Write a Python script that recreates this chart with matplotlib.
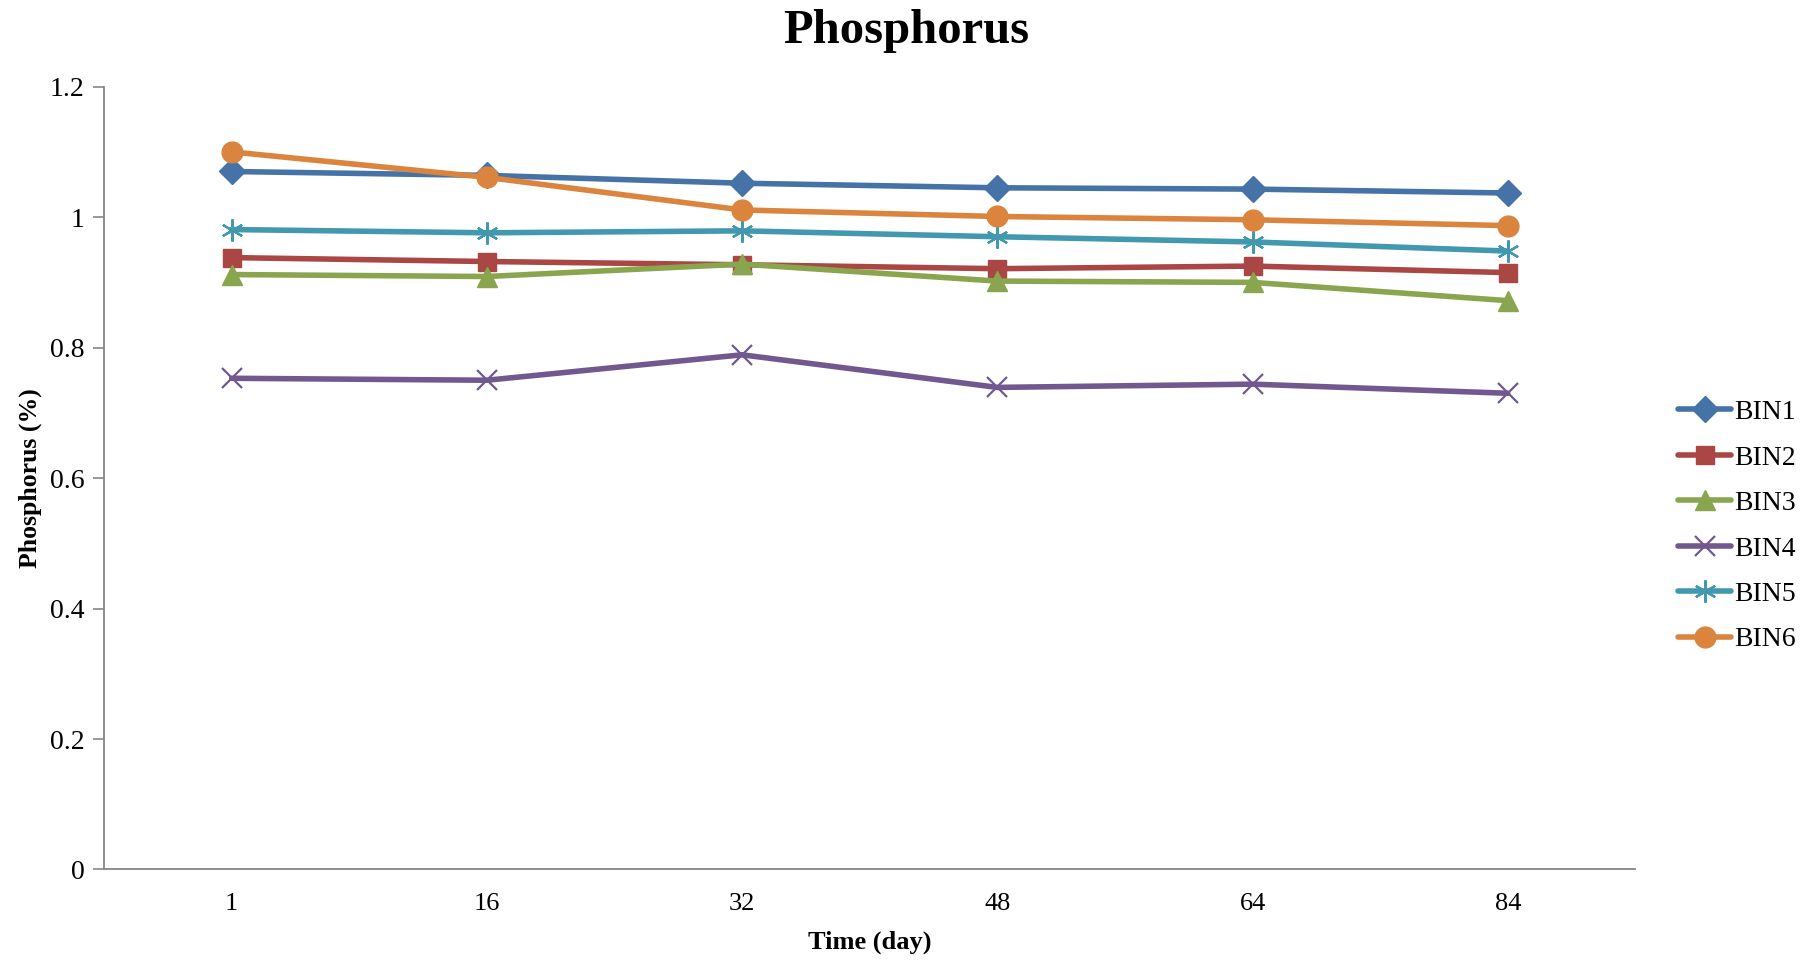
import numpy as np
import matplotlib
matplotlib.use("Agg")
import matplotlib.pyplot as plt

plt.rcParams["font.family"] = ["Liberation Serif", "DejaVu Serif"]

# Phosphorus content over composting time
days = ["1", "16", "32", "48", "64", "84"]
bin1 = [1.070, 1.064, 1.052, 1.045, 1.043, 1.037]
bin2 = [0.938, 0.932, 0.927, 0.921, 0.925, 0.915]
bin3 = [0.912, 0.909, 0.928, 0.902, 0.900, 0.872]
bin4 = [0.753, 0.750, 0.789, 0.739, 0.744, 0.730]
bin5 = [0.981, 0.976, 0.979, 0.970, 0.962, 0.948]
bin6 = [1.100, 1.061, 1.011, 1.001, 0.996, 0.987]

series = [
    ("BIN1", bin1, "#4572A7", "D", 13),
    ("BIN2", bin2, "#AA4643", "s", 13),
    ("BIN3", bin3, "#89A54E", "^", 15),
    ("BIN4", bin4, "#71588F", "x", 15),
    ("BIN5", bin5, "#4198AF", (6, 2, 0), 16),
    ("BIN6", bin6, "#DB843D", "o", 15),
]

fig = plt.figure(figsize=(18.13, 9.6), dpi=100)
ax = fig.add_axes([0.0574, 0.0943, 0.8446, 0.8154])

x = np.arange(len(days))
for name, vals, col, mk, ms in series:
    thin = mk == "x" or isinstance(mk, tuple)
    ax.plot(x, vals, color=col, lw=4, marker=mk, markersize=ms,
            markeredgewidth=1.6 if thin else 1.0, markeredgecolor=col,
            markerfacecolor=col, label=name, solid_capstyle="round")

ax.set_xlim(-0.5, len(days) - 0.5)
ax.set_ylim(0, 1.2)
ax.set_xticks(x)
ax.set_xticklabels(days)
ax.set_yticks(np.arange(0, 1.21, 0.2))
ax.set_yticklabels(["0", "0.2", "0.4", "0.6", "0.8", "1", "1.2"])
ax.tick_params(axis="both", labelsize=19, colors="#868686", labelcolor="black")
ax.tick_params(axis="x", length=0, pad=17)
ax.tick_params(axis="y", length=8, width=1.2, pad=6)
ax.tick_params(axis="y", labelsize=20)

for s in ("top", "right"):
    ax.spines[s].set_visible(False)
for s in ("left", "bottom"):
    ax.spines[s].set_color("#868686")
    ax.spines[s].set_linewidth(1.3)

ax.set_xlabel("Time (day)", fontsize=19, fontweight="bold", labelpad=11.5)
ax.set_ylabel("Phosphorus (%)", fontsize=18.5, fontweight="bold", labelpad=6)
fig.suptitle("Phosphorus", fontsize=35, fontweight="bold", y=0.991)

fig.legend(loc="center left", bbox_to_anchor=(0.912, 0.452), frameon=False,
           fontsize=20, handlelength=1.9, labelspacing=0.72, handletextpad=0.1)

fig.savefig("out.png", dpi=100)
